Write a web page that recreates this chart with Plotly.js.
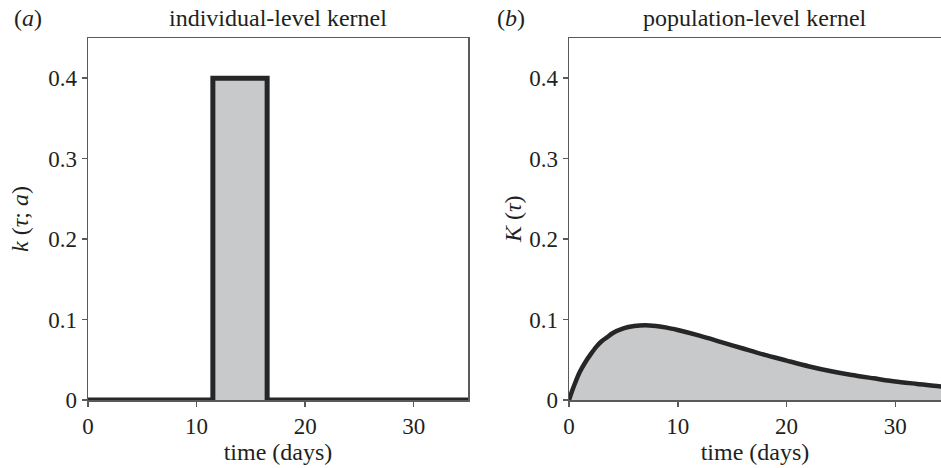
<!DOCTYPE html>
<html>
<head>
<meta charset="utf-8">
<script src="https://cdn.plot.ly/plotly-3.0.1.min.js"></script>
<style>html,body{margin:0;padding:0;background:#fff;}#chart{width:941px;height:468px;}</style>
</head>
<body>
<div id="chart"></div>
<script>
// Individual-level kernel (box)
const indivTime = [0, 11.5, 11.5, 16.5, 16.5, 35];
const indivK = [0, 0, 0.4, 0.4, 0, 0];
// Population-level kernel
const popTime = [0, 0.25, 0.5, 1, 1.5, 2, 2.5, 3, 3.5, 4, 5, 6, 7, 8, 9, 10, 12, 14, 16, 18, 20, 22, 24, 26, 28, 30, 32, 34, 35];
const popK = [0, 0.010, 0.019, 0.035, 0.047, 0.057, 0.066, 0.073, 0.078, 0.083, 0.089, 0.092, 0.093, 0.092, 0.090, 0.087, 0.080, 0.072, 0.064, 0.056, 0.049, 0.042, 0.036, 0.031, 0.027, 0.023, 0.020, 0.017, 0.016];
const xTicks = [0, 10, 20, 30];
const yTicks = [0, 0.1, 0.2, 0.3, 0.4];
const yTickText = ['0', '0.1', '0.2', '0.3', '0.4'];

const FONT = 'Liberation Serif, Times New Roman, serif';
const AX = '#5a5a5a';
const FILL = '#c8c9cb';
const LINE = '#262626';
const TXT = '#231f20';
const TS = 23;

const traces = [
  {x: indivTime, y: indivK, type: 'scatter', mode: 'lines', fill: 'tozeroy',
   fillcolor: FILL, line: {color: LINE, width: 5}, xaxis: 'x', yaxis: 'y', hoverinfo: 'skip'},
  {x: popTime, y: popK, type: 'scatter', mode: 'lines', fill: 'tozeroy',
   fillcolor: FILL, line: {color: LINE, width: 4.5, shape: 'spline', smoothing: 0.6}, xaxis: 'x2', yaxis: 'y2', hoverinfo: 'skip'}
];

function xax(domain, range, mirror) {
  return {domain: domain, range: range, tickvals: xTicks, ticktext: xTicks.map(String),
    showgrid: false, zeroline: false, showline: true, linecolor: AX, linewidth: 1.5, mirror: mirror,
    ticks: 'outside', ticklen: 5, tickwidth: 1.5, tickcolor: AX,
    tickfont: {family: FONT, size: TS, color: TXT},
    title: {text: 'time (days)', font: {family: FONT, size: 24, color: TXT}, standoff: 0}};
}
function yax(anchor, mirror) {
  return {domain: [0, 1], range: [0, 0.45], anchor: anchor, tickvals: yTicks, ticktext: yTickText,
    showgrid: false, zeroline: false, showline: true, linecolor: AX, linewidth: 1.5, mirror: mirror,
    ticks: 'outside', ticklen: 5, tickwidth: 1.5, tickcolor: AX,
    tickfont: {family: FONT, size: TS, color: TXT}};
}

const layout = {
  width: 941, height: 468,
  margin: {l: 0, r: 0, t: 38, b: 68},
  paper_bgcolor: '#fff', plot_bgcolor: '#fff',
  showlegend: false,
  xaxis: Object.assign(xax([88/941, 468/941], [0, 35], true), {anchor: 'y'}),
  yaxis: yax('x', true),
  xaxis2: Object.assign(xax([569/941, 1], [0, 34.2], true), {anchor: 'y2'}),
  yaxis2: yax('x2', false),
  annotations: [
    {text: '(<i>a</i>)', xref: 'paper', yref: 'paper', x: 12/941, y: 1 + 20/362, xanchor: 'left', yanchor: 'middle', showarrow: false, font: {family: FONT, size: 24, color: TXT}},
    {text: '(<i>b</i>)', xref: 'paper', yref: 'paper', x: 495/941, y: 1 + 20/362, xanchor: 'left', yanchor: 'middle', showarrow: false, font: {family: FONT, size: 24, color: TXT}},
    {text: 'individual-level kernel', xref: 'paper', yref: 'paper', x: 278/941, y: 1 + 20/362, xanchor: 'center', yanchor: 'middle', showarrow: false, font: {family: FONT, size: 24, color: TXT}},
    {text: 'population-level kernel', xref: 'paper', yref: 'paper', x: 755/941, y: 1 + 20/362, xanchor: 'center', yanchor: 'middle', showarrow: false, font: {family: FONT, size: 24, color: TXT}},
    {text: '<i>k</i> (<i>τ</i>; <i>a</i>)', xref: 'paper', yref: 'paper', x: 20/941, y: 0.5, xanchor: 'center', yanchor: 'middle', textangle: -90, showarrow: false, font: {family: FONT, size: 24, color: TXT}},
    {text: '<i>K</i> (<i>τ</i>)', xref: 'paper', yref: 'paper', x: 513/941, y: 0.5, xanchor: 'center', yanchor: 'middle', textangle: -90, showarrow: false, font: {family: FONT, size: 24, color: TXT}}
  ]
};

Plotly.newPlot('chart', traces, layout, {staticPlot: true, displayModeBar: false});
</script>
</body>
</html>
